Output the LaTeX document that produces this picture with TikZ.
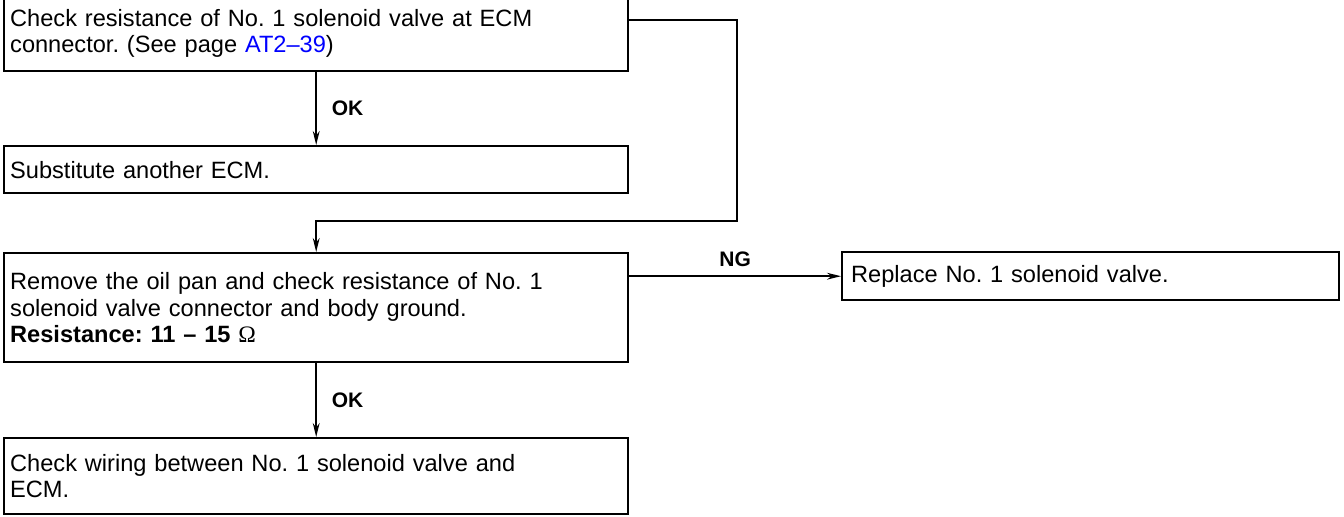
\documentclass[tikz,border=0pt]{standalone}
\usepackage{fontspec}
\setmainfont{Liberation Sans}
\newfontfamily\omegafont{Liberation Serif}
\usetikzlibrary{arrows.meta}
\frenchspacing

\newcommand\boxfont{\fontsize{11.8}{13.25}\selectfont}
\newcommand\labfont{\fontsize{10.5}{12}\selectfont\bfseries}

\tikzset{
  stepbox/.style={draw, line width=1.2pt, anchor=north west, align=left,
    inner xsep=3pt, text width=306pt, font=\boxfont},
  flow/.style={line width=0.9pt, -{Stealth[length=7pt,width=3.4pt]}},
}

\begin{document}
\begin{tikzpicture}[x=0.5pt,y=-0.5pt]
\useasboundingbox (0,0) rectangle (1344,516);

\node [stepbox,minimum height=38pt] (chk) at (3,-6)
  {Check resistance of No. 1 solenoid valve at ECM\\connector. (See page \textcolor{blue}{AT2–39})};
\node [stepbox,minimum height=23.5pt] (ecm) at (3,145) {Substitute another ECM.};
\node [stepbox,minimum height=54.5pt] (res) at (3,252)
  {Remove the oil pan and check resistance of No. 1\\solenoid valve connector and body ground.\\
   \textbf{Resistance: 11 – 15 }{\omegafont Ω}};
\node [stepbox,minimum height=24pt,inner xsep=4.5pt,text width=239.5pt] (rep) at (841,251)
  {Replace No. 1 solenoid valve.};
\node [stepbox,minimum height=38pt] (wir) at (3,437)
  {Check wiring between No. 1 solenoid valve and\\ECM.};

\coordinate (turn) at (737,221);

\draw [flow] (chk) -- node[right=4pt,font=\labfont] {OK} (ecm);
\draw [flow] ([yshift=-13pt]chk.north east) -| (turn) -| (res.north);
\draw [flow] (res.east |- rep.west) -- node[above=1pt,font=\labfont] {NG} (rep.west);
\draw [flow] (res) -- node[right=4pt,font=\labfont] {OK} (wir);
\end{tikzpicture}
\end{document}
